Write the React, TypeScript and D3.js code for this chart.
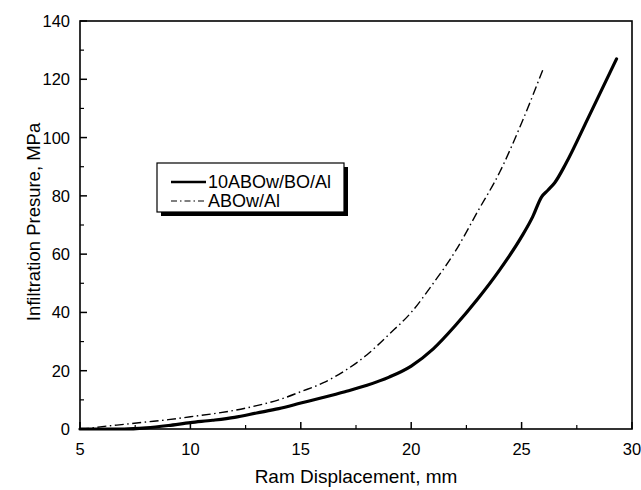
import * as d3 from 'd3';

// Ram displacement (mm) vs infiltration pressure (MPa)
const solidX = [5, 6, 7, 8, 9, 10, 11, 12, 13, 14, 15, 16, 17, 18, 19, 20, 21, 22, 23, 24, 25, 25.5, 25.9, 26.2, 26.5, 27, 28, 29.3];
const solidY = [0, 0, 0, 0.4, 1.2, 2.2, 3, 4, 5.5, 7, 8.9, 10.8, 12.8, 15, 17.8, 21.6, 27.5, 35.5, 44.5, 54.5, 66, 72.8, 79.6, 82, 84.5, 91, 106.5, 127];

const dashX = [5, 5.5, 6, 7, 8, 9, 10, 11, 12, 13, 14, 15, 16, 17, 18, 19, 20, 21, 22, 23, 24, 25, 26];
const dashY = [0, 0.3, 0.8, 1.6, 2.4, 3.2, 4.2, 5.2, 6.4, 8, 10, 12.8, 15.8, 20, 25.5, 32.5, 40, 50, 61, 74.5, 88, 105, 124];

const seriesNames = ['10ABOw/BO/Al', 'ABOw/Al'];
const xTicks = [5, 10, 15, 20, 25, 30];
const yTicks = [0, 20, 40, 60, 80, 100, 120, 140];

export default function App() {
  const width = 641;
  const height = 490;
  const margin = { top: 21, right: 9, bottom: 61, left: 80 };
  const font = 'Arial, "Liberation Sans", sans-serif';

  const x = d3.scaleLinear().domain([5, 30]).range([margin.left, width - margin.right]);
  const y = d3.scaleLinear().domain([0, 140]).range([height - margin.bottom, margin.top]);

  const line = d3.line<[number, number]>()
    .x(d => x(d[0]))
    .y(d => y(d[1]))
    .curve(d3.curveMonotoneX);

  const solid = solidX.map((v, i) => [v, solidY[i]] as [number, number]);
  const dashed = dashX.map((v, i) => [v, dashY[i]] as [number, number]);

  const xMinor = d3.range(7.5, 30, 5);
  const yMinor = d3.range(10, 140, 20);
  const y0 = y(0);
  const x0 = x(5);

  // legend box
  const lg = { x: 157, y: 163, w: 187, h: 49 };

  return (
    <svg width={width} height={height} style={{ position: 'absolute', left: 0, top: 0 }}>
      <rect width={width} height={height} fill="#fff" />

      {/* ticks pointing inward */}
      {xTicks.map(t => (
        <line key={'xt' + t} x1={x(t)} x2={x(t)} y1={y0} y2={y0 - 7} stroke="#000" strokeWidth={1.5} />
      ))}
      {xMinor.map(t => (
        <line key={'xm' + t} x1={x(t)} x2={x(t)} y1={y0} y2={y0 - 4} stroke="#000" strokeWidth={1.2} />
      ))}
      {yTicks.map(t => (
        <line key={'yt' + t} x1={x0} x2={x0 + 7} y1={y(t)} y2={y(t)} stroke="#000" strokeWidth={1.5} />
      ))}
      {yMinor.map(t => (
        <line key={'ym' + t} x1={x0} x2={x0 + 4} y1={y(t)} y2={y(t)} stroke="#000" strokeWidth={1.2} />
      ))}

      {/* curves */}
      <path d={line(dashed) ?? ''} fill="none" stroke="#000" strokeWidth={1.4} strokeDasharray="9,3.5,1.5,3.5" />
      <path d={line(solid) ?? ''} fill="none" stroke="#000" strokeWidth={3.2} strokeLinecap="round" />

      {/* frame */}
      <rect x={margin.left} y={margin.top} width={width - margin.left - margin.right}
        height={height - margin.top - margin.bottom} fill="none" stroke="#000" strokeWidth={1.6} />

      {/* tick labels */}
      {xTicks.map(t => (
        <text key={'xl' + t} x={x(t)} y={y0 + 26} textAnchor="middle" fontFamily={font} fontSize={16.5}>{t}</text>
      ))}
      {yTicks.map(t => (
        <text key={'yl' + t} x={x0 - 10} y={y(t) + 6} textAnchor="end" fontFamily={font} fontSize={16.5}>{t}</text>
      ))}

      {/* axis titles */}
      <text x={(margin.left + width - margin.right) / 2} y={483} textAnchor="middle" fontFamily={font} fontSize={19}>
        Ram Displacement, mm
      </text>
      <text transform="translate(40, 222) rotate(-90)"
        textAnchor="middle" fontFamily={font} fontSize={18.5}>
        Infiltration Presure, MPa
      </text>

      {/* legend */}
      <rect x={lg.x + 4} y={lg.y + 4} width={lg.w} height={lg.h} fill="#000" />
      <rect x={lg.x} y={lg.y} width={lg.w} height={lg.h} fill="#fff" stroke="#000" strokeWidth={1.2} />
      <line x1={171} x2={206} y1={lg.y + 19} y2={lg.y + 19} stroke="#000" strokeWidth={2.5} />
      <text x={208} y={lg.y + 25} fontFamily={font} fontSize={18}>{seriesNames[0]}</text>
      <line x1={171} x2={206} y1={lg.y + 38} y2={lg.y + 38} stroke="#000" strokeWidth={1.2} strokeDasharray="6,3,1.5,3" />
      <text x={208} y={lg.y + 44} fontFamily={font} fontSize={18}>{seriesNames[1]}</text>
    </svg>
  );
}
